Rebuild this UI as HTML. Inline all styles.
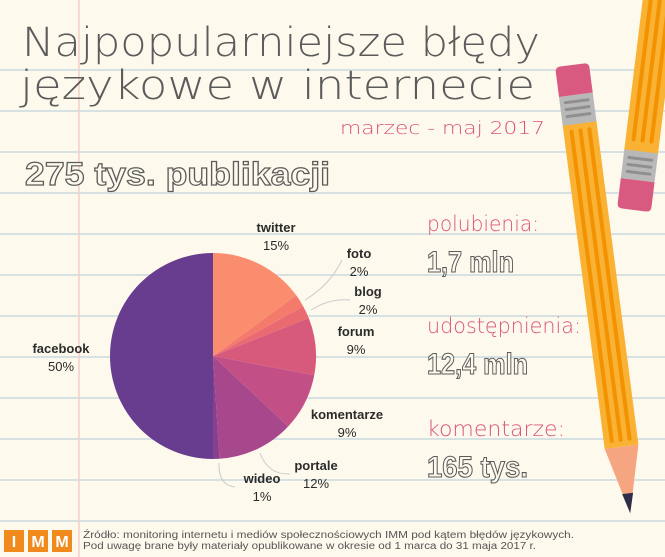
<!DOCTYPE html>
<html><head><meta charset="utf-8"><style>
body{margin:0;width:665px;height:557px;overflow:hidden;background:#fdf9ec}
svg{display:block}
.t{font-family:"Liberation Sans",sans-serif}
.l{font-family:"DejaVu Sans ExtraLight","DejaVu Sans","Liberation Sans",sans-serif;font-weight:200}
</style></head><body>
<svg width="665" height="557" viewBox="0 0 665 557" xmlns="http://www.w3.org/2000/svg">
<rect width="665" height="557" fill="#fdf9ec"/>
<g stroke="#d6e1e4" stroke-width="2">
<line x1="0" y1="70" x2="665" y2="70"/><line x1="0" y1="111" x2="665" y2="111"/>
<line x1="0" y1="152" x2="665" y2="152"/><line x1="0" y1="193" x2="665" y2="193"/>
<line x1="0" y1="234" x2="665" y2="234"/><line x1="0" y1="275" x2="665" y2="275"/>
<line x1="0" y1="316" x2="665" y2="316"/><line x1="0" y1="357" x2="665" y2="357"/>
<line x1="0" y1="398" x2="665" y2="398"/><line x1="0" y1="439" x2="665" y2="439"/>
<line x1="0" y1="480" x2="665" y2="480"/><line x1="0" y1="521" x2="665" y2="521"/>
</g>
<line x1="79" y1="0" x2="79" y2="557" stroke="#f4cfc8" stroke-width="1.5"/>

<text class="l" x="22" y="56" font-size="40" fill="#5b5b5b" textLength="518" lengthAdjust="spacingAndGlyphs">Najpopularniejsze błędy</text>
<text class="l" x="20" y="99" font-size="40" fill="#5b5b5b" textLength="515" lengthAdjust="spacingAndGlyphs">językowe w internecie</text>
<text class="l" x="340" y="134" font-size="18" fill="#d9557a" textLength="205" lengthAdjust="spacingAndGlyphs">marzec - maj 2017</text>
<text class="t" x="25" y="185" font-size="32" font-weight="bold" fill="#fdf9ec" stroke="#5b5b5b" stroke-width="1.2" textLength="305" lengthAdjust="spacingAndGlyphs">275 tys. publikacji</text>

<path d="M213,356 L213,253 A103,103 0 0 1 296.3,295.4 Z" fill="#fb8d6f"/>
<path d="M213,356 L296.3,295.4 A103,103 0 0 1 303.2,306.4 Z" fill="#f47a6c"/>
<path d="M213,356 L303.2,306.4 A103,103 0 0 1 308.8,318.1 Z" fill="#ea6a72"/>
<path d="M213,356 L308.8,318.1 A103,103 0 0 1 314.2,375.3 Z" fill="#d75a7c"/>
<path d="M213,356 L314.2,375.3 A103,103 0 0 1 288.1,426.5 Z" fill="#c25086"/>
<path d="M213,356 L288.1,426.5 A103,103 0 0 1 219.5,458.8 Z" fill="#a7478c"/>
<path d="M213,356 L219.5,458.8 A103,103 0 0 1 213,459 Z" fill="#883f8f"/>
<path d="M213,356 L213,459 A103,103 0 0 1 213,253 Z" fill="#683c8e"/>
<g fill="none" stroke="#ccc" stroke-width="1">
<path d="M305,300 Q330,285 342,260"/><path d="M311,310 Q330,298 350,300"/>
<path d="M260,453 Q268,475 290,474"/><path d="M219,463 Q218,485 235,487"/>
</g>
<g class="t" font-size="13" fill="#2b2b2b" text-anchor="middle">
<text x="276" y="232" font-weight="bold">twitter</text><text x="276" y="250">15%</text>
<text x="359" y="258" font-weight="bold">foto</text><text x="359" y="276">2%</text>
<text x="368" y="296" font-weight="bold">blog</text><text x="368" y="314">2%</text>
<text x="356" y="336" font-weight="bold">forum</text><text x="356" y="354">9%</text>
<text x="347" y="419" font-weight="bold">komentarze</text><text x="347" y="437">9%</text>
<text x="316" y="470" font-weight="bold">portale</text><text x="316" y="488">12%</text>
<text x="262" y="483" font-weight="bold">wideo</text><text x="262" y="501">1%</text>
<text x="61" y="353" font-weight="bold">facebook</text><text x="61" y="371">50%</text>
</g>

<g class="l" fill="#d9557a" font-size="21">
<text x="427" y="231" textLength="112" lengthAdjust="spacingAndGlyphs">polubienia:</text>
<text x="427" y="333" textLength="154" lengthAdjust="spacingAndGlyphs">udostępnienia:</text>
<text x="427" y="436" textLength="138" lengthAdjust="spacingAndGlyphs">komentarze:</text>
</g>
<g class="t" font-size="30" font-weight="bold" fill="#fdf9ec" stroke="#5b5b5b" stroke-width="1.1">
<text x="427" y="272" textLength="87" lengthAdjust="spacingAndGlyphs">1,7 mln</text>
<text x="427" y="374" textLength="101" lengthAdjust="spacingAndGlyphs">12,4 mln</text>
<text x="427" y="477" textLength="101" lengthAdjust="spacingAndGlyphs">165 tys.</text>
</g>

<g transform="translate(572,65) rotate(-7.4)">
<path d="M-17,385 L17,385 L0,452 Z" fill="#f5a57f"/>
<path d="M-5.5,432 L5.5,432 L0,452 Z" fill="#2e2e4a"/>
<rect x="-17" y="58" width="34" height="327" fill="#f9b233"/>
<rect x="-11" y="64" width="4" height="316" rx="2" fill="#f39200"/>
<rect x="-2" y="64" width="4" height="316" rx="2" fill="#f39200"/>
<rect x="7" y="64" width="4" height="316" rx="2" fill="#f39200"/>
<rect x="-17" y="30" width="34" height="29" fill="#b8b8b8"/>
<rect x="-13" y="35" width="26" height="3" rx="1.5" fill="#8f8f8f"/>
<rect x="-13" y="42" width="26" height="3" rx="1.5" fill="#8f8f8f"/>
<rect x="-13" y="49" width="26" height="3" rx="1.5" fill="#8f8f8f"/>
<path d="M-17,30 L-17,5 Q-17,0 -12,0 L12,0 Q17,0 17,5 L17,30 Z" fill="#d95a80"/>
</g>
<g transform="translate(634,210) rotate(7)">
<rect x="-17" y="-320" width="34" height="262" fill="#f9b233"/>
<rect x="-11" y="-320" width="4" height="252" rx="2" fill="#f39200"/>
<rect x="-2" y="-320" width="4" height="252" rx="2" fill="#f39200"/>
<rect x="7" y="-320" width="4" height="252" rx="2" fill="#f39200"/>
<rect x="-17" y="-59" width="34" height="29" fill="#b8b8b8"/>
<rect x="-13" y="-53" width="26" height="3" rx="1.5" fill="#8f8f8f"/>
<rect x="-13" y="-46" width="26" height="3" rx="1.5" fill="#8f8f8f"/>
<rect x="-13" y="-39" width="26" height="3" rx="1.5" fill="#8f8f8f"/>
<path d="M-17,-30 L-17,-5 Q-17,0 -12,0 L12,0 Q17,0 17,-5 L17,-30 Z" fill="#d95a80"/>
</g>

<g class="t" font-size="16" font-weight="bold" fill="#fff" text-anchor="middle">
<rect x="4" y="530" width="20" height="22" fill="#f08a1c"/><text x="14" y="547">I</text>
<rect x="28" y="530" width="20" height="22" fill="#f08a1c"/><text x="38" y="547">M</text>
<rect x="52" y="530" width="20" height="22" fill="#f08a1c"/><text x="62" y="547">M</text>
</g>
<g class="t" font-size="10" fill="#555">
<text x="83" y="538" textLength="491" lengthAdjust="spacingAndGlyphs">Źródło: monitoring internetu i mediów społecznościowych IMM pod kątem błędów językowych.</text>
<text x="83" y="549" textLength="453" lengthAdjust="spacingAndGlyphs">Pod uwagę brane były materiały opublikowane w okresie od 1 marca do 31 maja 2017 r.</text>
</g>
</svg>
</body></html>
